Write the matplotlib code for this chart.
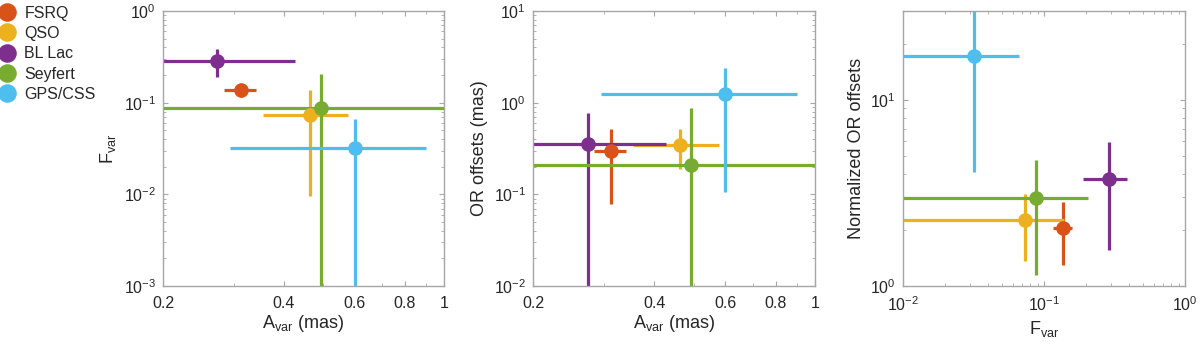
import matplotlib

matplotlib.use("Agg")
import matplotlib.pyplot as plt
from matplotlib.ticker import LogLocator, NullFormatter, FixedLocator, FixedFormatter

plt.rcParams["font.family"] = ["Liberation Sans", "DejaVu Sans"]
plt.rcParams["mathtext.fontset"] = "custom"
plt.rcParams["mathtext.rm"] = "Liberation Sans"
plt.rcParams["mathtext.it"] = "Liberation Sans:italic"
plt.rcParams["mathtext.default"] = "regular"

CLASSES = ["FSRQ", "QSO", "BL Lac", "Seyfert", "GPS/CSS"]
COLORS = ["#D95319", "#EDB120", "#7E2F8E", "#77AC30", "#4DBEEE"]

# A_var (mas): value, lower bound, upper bound
avar = [0.313, 0.464, 0.273, 0.494, 0.600]
avar_lo = [0.284, 0.354, 0.12, 0.10, 0.294]
avar_hi = [0.340, 0.578, 0.427, 1.6, 0.903]

# F_var
fvar = [0.137, 0.073, 0.288, 0.088, 0.032]
fvar_lo = [0.115, 0.0096, 0.190, 1e-4, 1e-4]
fvar_hi = [0.157, 0.138, 0.388, 0.205, 0.066]

# OR offsets (mas)
oro = [0.300, 0.345, 0.351, 0.210, 1.23]
oro_lo = [0.078, 0.187, 1e-3, 1e-3, 0.105]
oro_hi = [0.515, 0.510, 0.763, 0.867, 2.37]

# Normalized OR offsets
nor = [2.04, 2.26, 3.76, 2.98, 17.2]
nor_lo = [1.30, 1.37, 1.57, 1.14, 4.12]
nor_hi = [2.82, 3.12, 5.97, 4.76, 60.0]

AX_COLOR = "#A6A6A6"
TXT_COLOR = "#262626"


def errs(v, lo, hi):
    return [[v - lo], [hi - v]]


def style(ax):
    ax.set_xscale("log")
    ax.set_yscale("log")
    for s in ax.spines.values():
        s.set_color(AX_COLOR)
        s.set_linewidth(1.0)
    ax.tick_params(which="both", direction="in", top=True, right=True,
                   color=AX_COLOR, labelcolor=TXT_COLOR, labelsize=11.5)
    ax.tick_params(which="major", length=3.5)
    ax.tick_params(which="minor", length=2)
    ax.tick_params(axis="x", which="both", pad=7)
    ax.tick_params(axis="y", which="both", pad=5)


def draw(ax, xs, xlo, xhi, ys, ylo, yhi):
    for i in range(len(CLASSES)):
        ax.errorbar(xs[i], ys[i],
                    xerr=errs(xs[i], xlo[i], xhi[i]),
                    yerr=errs(ys[i], ylo[i], yhi[i]),
                    fmt="o", color=COLORS[i], ms=9.5, elinewidth=2.3,
                    capsize=0, label=CLASSES[i])


def lin_xticks(ax):
    ticks = [0.2, 0.4, 0.6, 0.8, 1]
    ax.xaxis.set_major_locator(FixedLocator(ticks))
    ax.xaxis.set_major_formatter(FixedFormatter(["0.2", "0.4", "0.6", "0.8", "1"]))
    ax.xaxis.set_minor_locator(FixedLocator([0.3, 0.5, 0.7, 0.9]))
    ax.xaxis.set_minor_formatter(NullFormatter())


fig = plt.figure(figsize=(12, 3.44), dpi=100)
W, H = 1200, 344
ax1 = fig.add_axes([163 / W, 1 - 286 / H, 281 / W, 275 / H])
ax2 = fig.add_axes([533 / W, 1 - 286 / H, 282 / W, 275 / H])
ax3 = fig.add_axes([903 / W, 1 - 286 / H, 282 / W, 275 / H])

for ax in (ax1, ax2, ax3):
    style(ax)

draw(ax1, avar, avar_lo, avar_hi, fvar, fvar_lo, fvar_hi)
ax1.set_xlim(0.2, 1)
ax1.set_ylim(1e-3, 1)
lin_xticks(ax1)
ax1.set_xlabel(r"A$_{\rm var}$ (mas)", fontsize=13, color=TXT_COLOR, labelpad=2)
ax1.set_ylabel(r"F$_{\rm var}$", fontsize=13, color=TXT_COLOR)

draw(ax2, avar, avar_lo, avar_hi, oro, oro_lo, oro_hi)
ax2.set_xlim(0.2, 1)
ax2.set_ylim(1e-2, 10)
lin_xticks(ax2)
ax2.set_xlabel(r"A$_{\rm var}$ (mas)", fontsize=13, color=TXT_COLOR, labelpad=2)
ax2.set_ylabel("OR offsets (mas)", fontsize=13, color=TXT_COLOR)

draw(ax3, fvar, fvar_lo, fvar_hi, nor, nor_lo, nor_hi)
ax3.set_xlim(1e-2, 1)
ax3.set_ylim(1, 30)
ax3.yaxis.set_major_locator(LogLocator(base=10, numticks=5))
ax3.set_xlabel(r"F$_{\rm var}$", fontsize=13, color=TXT_COLOR, labelpad=3)
ax3.set_ylabel("Normalized OR offsets", fontsize=13, color=TXT_COLOR)

for ax in (ax1, ax2, ax3):
    ax.yaxis.set_minor_formatter(NullFormatter())
ax3.xaxis.set_minor_formatter(NullFormatter())

handles, labels = ax1.get_legend_handles_labels()
handles = [h[0] for h in handles]
leg = fig.legend(handles, labels, loc="upper left", bbox_to_anchor=(-0.013, 1.025),
                 frameon=False, fontsize=11.5, handletextpad=0.6, labelspacing=0.33,
                 handlelength=1.0, labelcolor=TXT_COLOR, markerscale=1.3)

fig.savefig("out.png", dpi=100)
